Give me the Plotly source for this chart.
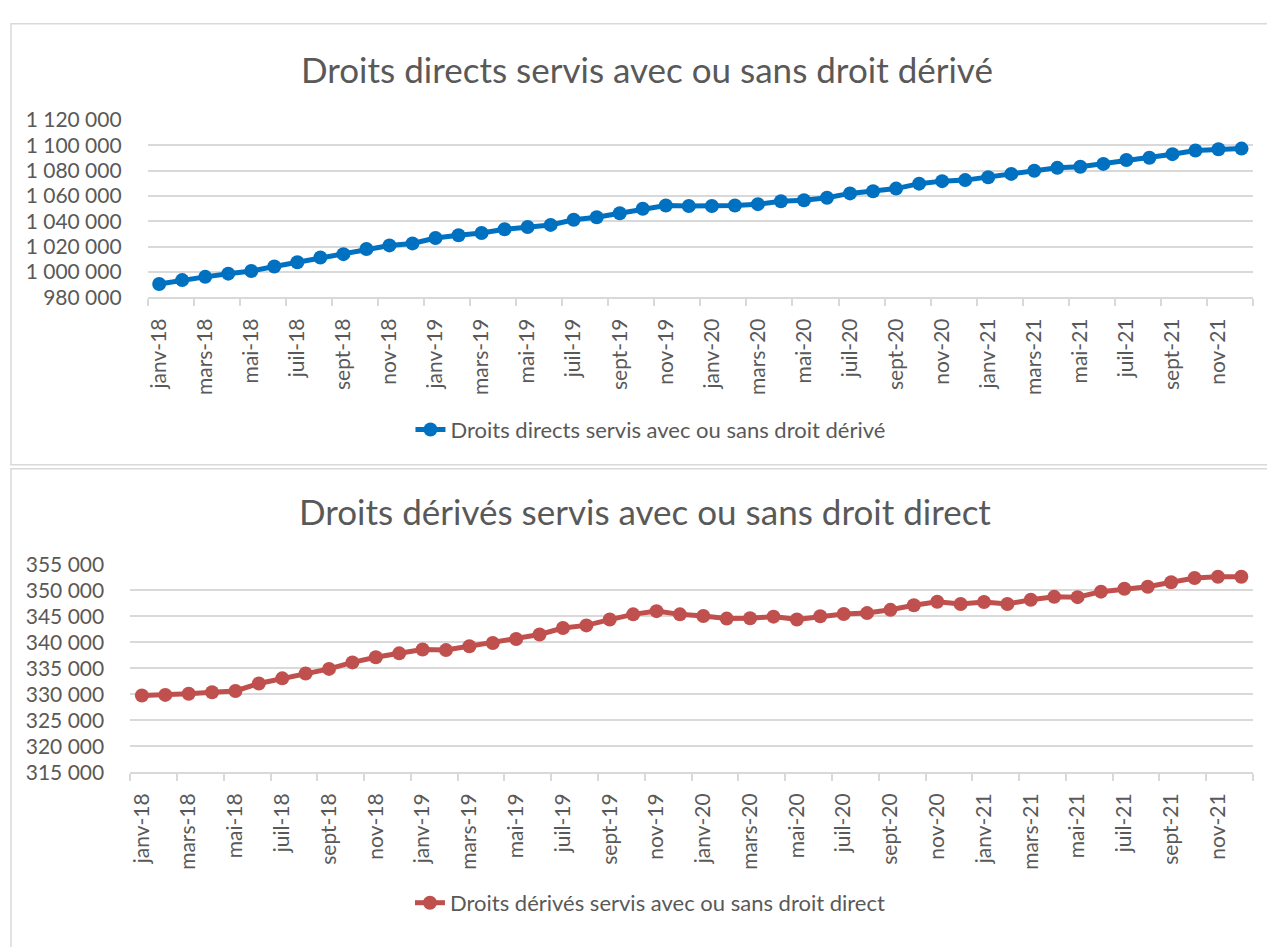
import plotly.graph_objects as go

mois = ["janv", "févr", "mars", "avr", "mai", "juin", "juil", "août", "sept", "oct", "nov", "déc"]
annees = ["18", "19", "20", "21"]
categories = [f"{m}-{a}" for a in annees for m in mois]

droits_directs = [
    990500, 993600, 996150, 998700, 1000800, 1004400, 1007700, 1011500, 1014100, 1018200, 1021000, 1022600,
    1026900, 1029000, 1030800, 1033800, 1035600, 1037200, 1041300, 1043300, 1046400, 1050000, 1052600, 1052100,
    1052100, 1052600, 1053600, 1055900, 1056700, 1058700, 1062100, 1063800, 1065900, 1069800, 1071800, 1072600,
    1074900, 1077500, 1080000, 1082300, 1083100, 1085400, 1088500, 1090300, 1093100, 1096000, 1097000, 1097500,
]
droits_derives = [
    329750, 329875, 330100, 330375, 330625, 332060, 333060, 334000, 334875, 336125, 337125, 337875,
    338625, 338500, 339250, 339875, 340625, 341500, 342750, 343250, 344375, 345375, 346000, 345375,
    345060, 344560, 344625, 344940, 344375, 345000, 345440, 345625, 346250, 347125, 347810, 347375,
    347750, 347375, 348190, 348750, 348690, 349750, 350310, 350690, 351560, 352375, 352625, 352625,
]

titre_haut = "Droits directs servis avec ou sans droit dérivé"
titre_bas = "Droits dérivés servis avec ou sans droit direct"

idx = list(range(len(categories)))
tick_idx = idx[::2]
tick_labels = categories[::2]
boundaries = [i - 0.5 for i in idx[::2]] + [idx[-1] + 0.5]

W, H = 1267, 947
FONT = "Lato"
TXT = "#595959"
GRID = "#D9D9D9"
BLUE = "#0070C0"
RED = "#C0504D"

fig = go.Figure()
fig.add_trace(go.Scatter(
    x=idx, y=droits_directs, customdata=categories, name=titre_haut,
    mode="lines+markers", line=dict(color=BLUE, width=5),
    marker=dict(color=BLUE, size=14), xaxis="x", yaxis="y",
    legend="legend", showlegend=True,
    hovertemplate="%{customdata}: %{y}<extra></extra>",
))
fig.add_trace(go.Scatter(
    x=idx, y=droits_derives, customdata=categories, name=titre_bas,
    mode="lines+markers", line=dict(color=RED, width=5),
    marker=dict(color=RED, size=14), xaxis="x2", yaxis="y2",
    legend="legend2", showlegend=True,
    hovertemplate="%{customdata}: %{y}<extra></extra>",
))

def xax(domain, anchor):
    return dict(
        domain=domain, anchor=anchor, type="linear", range=[-0.5, idx[-1] + 0.5],
        tickmode="array", tickvals=tick_idx, ticktext=tick_labels, ticks="",
        tickangle=-90, ticklabelstandoff=11, showgrid=False, zeroline=False,
        showline=True, linecolor=GRID, linewidth=1.5,
        tickfont=dict(family=FONT, size=21, color=TXT),
        minor=dict(ticks="outside", ticklen=7, tickcolor=GRID, tickwidth=1.5,
                   tickmode="array", tickvals=boundaries, showgrid=False),
    )

def yax(domain, anchor, rng, dtick):
    return dict(
        domain=domain, anchor=anchor, range=rng, dtick=dtick, tick0=rng[0],
        tickformat=",.0f", ticks="", ticklabelstandoff=25,
        showgrid=True, gridcolor=GRID, gridwidth=1.5, zeroline=False, showline=False,
        tickfont=dict(family=FONT, size=21, color=TXT),
    )

leg_font = dict(family=FONT, size=22, color=TXT)

fig.update_layout(
    width=W, height=H, autosize=False, showlegend=True,
    margin=dict(l=0, r=0, t=0, b=0),
    paper_bgcolor="white", plot_bgcolor="white",
    separators=", ",
    xaxis=xax([145 / W, 1253 / W], "y"),
    yaxis=yax([1 - 291 / H, 1 - 109 / H], "x", [980000, 1120000], 20000),
    xaxis2=xax([127.5 / W, 1253 / W], "y2"),
    yaxis2=yax([1 - 778.7 / H, 1 - 565.3 / H], "x2", [315000, 355000], 5000),
    legend=dict(x=649 / W, xanchor="center", y=1 - 427 / H, yanchor="middle",
                orientation="h", bgcolor="rgba(0,0,0,0)", font=leg_font),
    legend2=dict(x=649 / W, xanchor="center", y=1 - 913 / H, yanchor="middle",
                 orientation="h", bgcolor="rgba(0,0,0,0)", font=leg_font),
    annotations=[
        dict(text=titre_haut, x=646 / W, y=1 - 57 / H, xref="paper", yref="paper",
             showarrow=False, xanchor="center", yanchor="middle",
             font=dict(family=FONT, size=35, color=TXT)),
        dict(text=titre_bas, x=644 / W, y=1 - 510 / H, xref="paper", yref="paper",
             showarrow=False, xanchor="center", yanchor="middle",
             font=dict(family=FONT, size=35, color=TXT)),
    ],
    shapes=[
        dict(type="rect", xref="paper", yref="paper", x0=8 / W, x1=1.02,
             y0=1 - 463 / H, y1=1 - 10 / H, line=dict(color=GRID, width=1.5)),
        dict(type="rect", xref="paper", yref="paper", x0=8 / W, x1=1.02,
             y0=-0.02, y1=1 - 467 / H, line=dict(color=GRID, width=1.5)),
    ],
)

fig.write_html("out.html", config={"displayModeBar": False},
               post_script="document.body.style.margin='0';")
